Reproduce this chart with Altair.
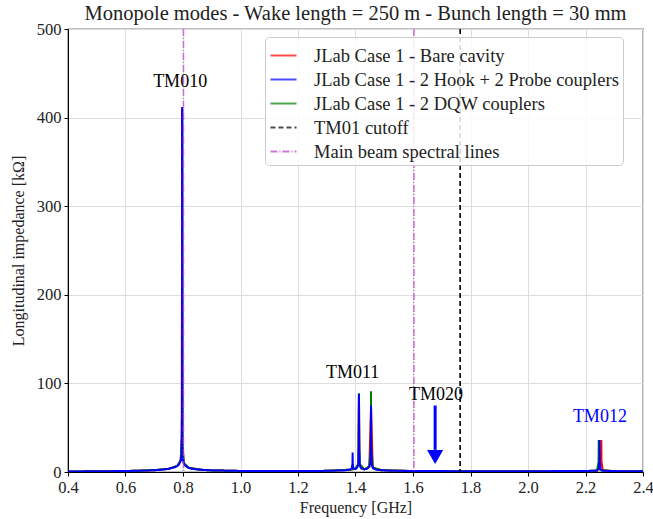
import altair as alt
import pandas as pd

# ---- data ----
freq_hook = [0.40, 0.50, 0.60, 0.66, 0.70, 0.73, 0.75, 0.77, 0.78, 0.787, 0.792, 0.795,
             0.7962, 0.7966, 0.797, 0.7974, 0.7985, 0.800, 0.804, 0.81, 0.82, 0.84, 0.87,
             0.90, 1.00, 1.10, 1.20, 1.30, 1.36, 1.38, 1.387, 1.3895, 1.390, 1.3905, 1.393,
             1.40, 1.406, 1.410, 1.4115, 1.412, 1.4125, 1.415, 1.42, 1.43, 1.44, 1.448,
             1.452, 1.4535, 1.454, 1.4545, 1.457, 1.462, 1.47, 1.49, 1.52, 1.60, 1.70,
             1.80, 1.90, 2.00, 2.10, 2.20, 2.24, 2.246, 2.2485, 2.249, 2.2495, 2.252,
             2.26, 2.30, 2.40]
z_hook = [0.6, 0.8, 1.1, 1.5, 2.0, 2.8, 3.6, 5.2, 6.8, 9.0, 13.0, 20.0,
          60.0, 25.0, 412.0, 30.0, 18.0, 13.0, 9.0, 6.5, 4.6, 3.2, 2.3,
          1.8, 1.2, 1.0, 1.0, 1.3, 1.8, 2.6, 4.0, 10.0, 22.0, 10.0, 4.0,
          3.5, 5.0, 9.0, 30.0, 88.0, 30.0, 7.0, 4.0, 3.0, 3.6, 6.0,
          12.0, 30.0, 75.0, 30.0, 8.0, 4.0, 2.8, 2.0, 1.5, 1.1, 1.0,
          0.9, 0.9, 0.9, 1.0, 1.1, 1.6, 4.0, 12.0, 36.0, 12.0, 3.0,
          1.4, 1.0, 0.8]

freq_dqw = [0.40, 0.50, 0.60, 0.70, 0.75, 0.78, 0.792, 0.796, 0.797, 0.798, 0.803,
            0.82, 0.87, 0.90, 1.00, 1.20, 1.30, 1.38, 1.40, 1.410, 1.412, 1.414,
            1.43, 1.448, 1.4535, 1.454, 1.4545, 1.46, 1.49, 1.60, 1.80, 2.00, 2.20,
            2.24, 2.2455, 2.246, 2.2465, 2.252, 2.30, 2.40]
z_dqw = [0.6, 0.8, 1.1, 2.0, 3.6, 6.8, 13.0, 40.0, 410.0, 30.0, 10.0,
         4.6, 2.3, 1.8, 1.2, 1.0, 1.3, 2.6, 3.5, 9.0, 89.0, 9.0,
         3.0, 6.0, 30.0, 91.0, 30.0, 5.0, 2.0, 1.1, 0.9, 0.9, 1.1,
         1.6, 12.0, 36.0, 12.0, 2.0, 1.0, 0.8]

freq_bare = [0.40, 0.50, 0.60, 0.70, 0.75, 0.78, 0.792, 0.796, 0.797, 0.798, 0.803,
             0.82, 0.87, 0.90, 1.00, 1.20, 1.30, 1.38, 1.40, 1.410, 1.412, 1.414,
             1.43, 1.448, 1.454, 1.46, 1.49, 1.60, 1.80, 2.00, 2.20, 2.24, 2.254,
             2.2545, 2.255, 2.2555, 2.26, 2.30, 2.40]
z_bare = [0.6, 0.8, 1.1, 2.0, 3.6, 6.8, 13.0, 40.0, 410.0, 30.0, 10.0,
          4.6, 2.3, 1.8, 1.2, 1.0, 1.3, 2.6, 3.5, 9.0, 87.0, 9.0,
          3.0, 6.0, 74.0, 5.0, 2.0, 1.1, 0.9, 0.9, 1.1, 1.4, 10.0,
          20.0, 36.0, 12.0, 2.0, 1.0, 0.8]

series_names = ["JLab Case 1 - Bare cavity",
                "JLab Case 1 - 2 Hook + 2 Probe couplers",
                "JLab Case 1 - 2 DQW couplers",
                "TM01 cutoff",
                "Main beam spectral lines"]
series_colors = ["#ff0000", "#0000ff", "#008000", "#000000", "#c040c8"]
series_dash = [[1, 0], [1, 0], [1, 0], [5, 3], [7, 2, 1, 2]]

cutoff_freq = [1.764]
spectral_freq = [0.8016, 1.6032]

mode_labels = ["TM010", "TM011", "TM020", "TM012"]
mode_label_x = [0.79, 1.39, 1.68, 2.25]
mode_label_y = [440, 112, 87, 62]
mode_label_colors = ["black", "black", "black", "#0000ff"]

arrow_x = [1.677]
arrow_top = [75]
arrow_bottom = [25]
arrow_tip = [17]

# ---- build tables ----
def series_df(f, z, name):
    return pd.DataFrame({"f": f, "z": z, "series": name})

df_bare = series_df(freq_bare, z_bare, series_names[0])
df_hook = series_df(freq_hook, z_hook, series_names[1])
df_dqw = series_df(freq_dqw, z_dqw, series_names[2])
df_cut = pd.DataFrame({"f": cutoff_freq, "series": series_names[3]})
df_spec = pd.DataFrame({"f": spectral_freq, "series": series_names[4]})
df_lab = pd.DataFrame({"f": mode_label_x, "z": mode_label_y,
                       "label": mode_labels, "c": mode_label_colors})
df_arrow = pd.DataFrame({"f": arrow_x, "top": arrow_top, "bot": arrow_bottom,
                         "tip": arrow_tip})

FONT = "Liberation Serif"

x_scale = alt.Scale(domain=[0.4, 2.4], nice=False, zero=False)
y_scale = alt.Scale(domain=[0, 500], nice=False)

color_enc = alt.Color(
    "series:N",
    scale=alt.Scale(domain=series_names, range=series_colors),
    legend=alt.Legend(
        title=None, orient="none", legendX=197, legendY=8,
        symbolType="stroke", symbolStrokeWidth=2, symbolSize=680,
        labelFont=FONT, labelFontSize=18.5, labelColor="#222",
        fillColor="rgba(255,255,255,0.85)", strokeColor="#cccccc",
        cornerRadius=4, padding=4, rowPadding=0, labelOffset=16,
        labelLimit=400),
)
dash_enc = alt.StrokeDash(
    "series:N",
    scale=alt.Scale(domain=series_names, range=series_dash),
    legend=None,
)

x_enc = alt.X("f:Q", scale=x_scale,
              axis=alt.Axis(title="Frequency [GHz]", values=[0.4, 0.6, 0.8, 1.0, 1.2, 1.4, 1.6, 1.8, 2.0, 2.2, 2.4],
                            format=".1f", labelFlush=False))
y_enc = alt.Y("z:Q", scale=y_scale,
              axis=alt.Axis(title="Longitudinal impedance [kΩ]", values=[0, 100, 200, 300, 400, 500],
                            labelFlush=False))


def line_layer(df):
    return alt.Chart(df).mark_line(strokeWidth=2, clip=True).encode(
        x=x_enc, y=y_enc, color=color_enc, strokeDash=dash_enc, order=alt.Order("f:Q"))

bare = line_layer(df_bare)
dqw = line_layer(df_dqw)
hook = line_layer(df_hook)

cut = alt.Chart(df_cut).mark_rule(strokeWidth=1.6).encode(
    x="f:Q", color=color_enc, strokeDash=dash_enc)
spec = alt.Chart(df_spec).mark_rule(strokeWidth=1.6, opacity=0.7).encode(
    x="f:Q", color=color_enc, strokeDash=dash_enc)

labels = alt.Chart(df_lab).mark_text(font=FONT, fontSize=18, baseline="middle").encode(
    x="f:Q", y="z:Q", text="label:N", color=alt.Color("c:N", scale=None))

shaft = alt.Chart(df_arrow).mark_rule(strokeWidth=3, color="#0000ff").encode(
    x="f:Q", y="top:Q", y2="bot:Q")
head = alt.Chart(df_arrow).mark_point(shape="triangle-down", filled=True, size=260,
                                       color="#0000ff", opacity=1).encode(
    x="f:Q", y=alt.Y("tip:Q"))

chart = alt.layer(bare, dqw, hook, spec, cut, labels, shaft, head).properties(
    width=575, height=443,
    title=alt.Title("Monopole modes - Wake length = 250 m - Bunch length = 30 mm",
                    font=FONT, fontSize=20.5, fontWeight="normal", color="#222", offset=-3),
    autosize=alt.AutoSizeParams(type="none"),
    padding={"left": 68, "top": 29, "right": 10, "bottom": 47},
).configure_view(stroke="#000000", strokeWidth=1.2).configure_axis(
    labelFont=FONT, labelFontSize=16.5, labelColor="#222",
    titleFont=FONT, titleFontSize=16, titleFontWeight="normal", titleColor="#222",
    grid=True, gridColor="#dddddd", gridWidth=1,
    domainColor="#000000", tickColor="#000000", tickSize=4,
    labelPadding=3,
).configure_axisY(titlePadding=10).configure_axisX(titlePadding=4)

chart.save("out.html", embed_options={"renderer": "svg", "actions": False})
